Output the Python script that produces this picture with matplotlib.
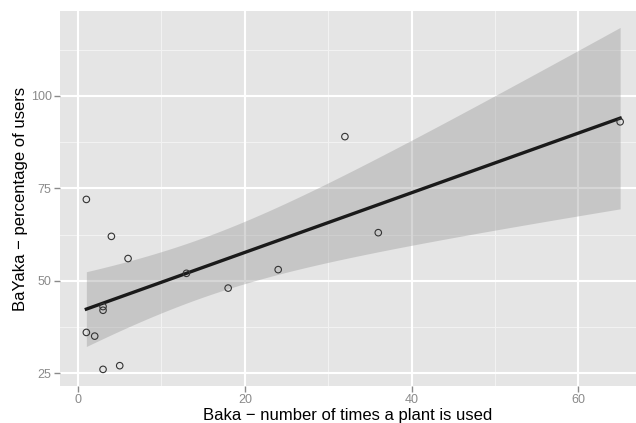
import numpy as np
import matplotlib
matplotlib.use("Agg")
import matplotlib.pyplot as plt

# Baka use counts vs BaYaka percentage of users
baka_uses = [1, 4, 6, 13, 18, 24, 3, 3, 1, 2, 5, 3, 32, 36, 65]
bayaka_pct = [72, 62, 56, 52, 48, 53, 43, 42, 36, 35, 27, 26, 89, 63, 93]

x_ticks = [0, 20, 40, 60]
y_ticks = [25, 50, 75, 100]

plt.rcParams['font.family'] = ['Liberation Sans', 'DejaVu Sans']

x = np.array(baka_uses, dtype=float)
y = np.array(bayaka_pct, dtype=float)

# linear fit with 95% confidence band (like geom_smooth(method="lm"))
n = len(x)
slope, intercept = np.polyfit(x, y, 1)
resid = y - (slope * x + intercept)
s = np.sqrt(np.sum(resid ** 2) / (n - 2))
t_crit = 2.160  # t(0.975, df=13)
xs = np.linspace(x.min(), x.max(), 80)
fit = slope * xs + intercept
se = s * np.sqrt(1 / n + (xs - x.mean()) ** 2 / np.sum((x - x.mean()) ** 2))

fig = plt.figure(figsize=(6.36, 4.23), dpi=100)
ax = fig.add_axes([60 / 636, 37 / 423, 576 / 636, 375 / 423])
ax.set_facecolor('#E5E5E5')

ax.set_xlim(-2.16, 66.9)
ax.set_ylim(21.5, 123)

# grid: minor lines light, major lines white
for v in [10, 30, 50]:
    ax.axvline(v, color='#F2F2F2', lw=0.8, zorder=0)
for v in [37.5, 62.5, 87.5, 112.5]:
    ax.axhline(v, color='#F2F2F2', lw=0.8, zorder=0)
for v in x_ticks:
    ax.axvline(v, color='white', lw=1.5, zorder=0)
for v in y_ticks:
    ax.axhline(v, color='white', lw=1.5, zorder=0)

ax.fill_between(xs, fit - t_crit * se, fit + t_crit * se, color='#999999',
                alpha=0.4, lw=0, zorder=1)
ax.plot(xs, fit, color='#1A1A1A', lw=2.4, zorder=2)
ax.scatter(x, y, s=22, facecolors='none', edgecolors='#333333', lw=0.8, zorder=3)

for sp in ax.spines.values():
    sp.set_visible(False)

ax.set_xticks(x_ticks)
ax.set_yticks(y_ticks)
ax.tick_params(colors='#8A8A8A', labelsize=9, length=4, width=1)
ax.tick_params(axis='x', pad=2)
ax.tick_params(axis='y', pad=2)

ax.set_xlabel('Baka \u2212 number of times a plant is used', fontsize=12, labelpad=1)
ax.set_ylabel('BaYaka \u2212 percentage of users', fontsize=12, labelpad=2)

fig.savefig('out.png', dpi=100)
